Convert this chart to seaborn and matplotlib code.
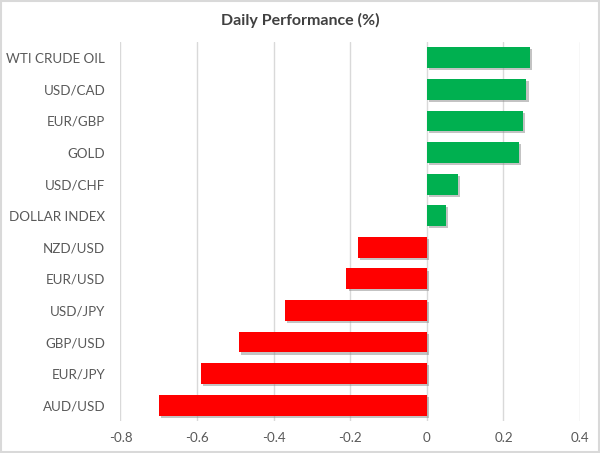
import matplotlib
matplotlib.use("Agg")
import matplotlib.pyplot as plt
import matplotlib.patheffects as pe
import seaborn as sns
import pandas as pd

# data
assets = ["WTI CRUDE OIL", "USD/CAD", "EUR/GBP", "GOLD", "USD/CHF", "DOLLAR INDEX",
          "NZD/USD", "EUR/USD", "USD/JPY", "GBP/USD", "EUR/JPY", "AUD/USD"]
change = [0.27, 0.26, 0.25, 0.24, 0.08, 0.05,
          -0.18, -0.21, -0.37, -0.49, -0.59, -0.70]
x_ticks = [-0.8, -0.6, -0.4, -0.2, 0, 0.2, 0.4]
x_tick_labels = ["-0.8", "-0.6", "-0.4", "-0.2", "0", "0.2", "0.4"]

df = pd.DataFrame({"asset": assets, "change": change})
bar_colors = ["#00B050" if v >= 0 else "#FF0000" for v in change]

sns.set_style("white")
plt.rcParams["font.family"] = ["Lato", "DejaVu Sans"]
text_col = "#595959"

fig = plt.figure(figsize=(6.0, 4.53), dpi=100)
ax = fig.add_axes([0.2008, 0.0706, 0.766, 0.8367])

sns.barplot(data=df, x="change", y="asset", hue="asset", palette=bar_colors,
            orient="h", width=0.66, saturation=1, linewidth=0, legend=False, ax=ax, zorder=3)

# soft drop shadow like the original
for p in ax.patches:
    p.set_path_effects([pe.SimplePatchShadow(offset=(1.5, -1.5), shadow_rgbFace="#888888", alpha=0.5),
                        pe.Normal()])

ax.set_xlim(-0.8, 0.4)
ax.set_xticks(x_ticks)
ax.set_xticklabels(x_tick_labels)
ax.xaxis.grid(True, color="#d9d9d9", linewidth=1, zorder=0)
ax.set_axisbelow(True)
ax.set_xlabel("")
ax.set_ylabel("")
ax.tick_params(axis="y", length=0, pad=11, labelsize=9.6, labelcolor=text_col)
ax.tick_params(axis="x", length=0, pad=8, labelsize=9.6, labelcolor=text_col)
for s in ax.spines.values():
    s.set_visible(False)

fig.text(0.5, 0.955, "Daily Performance (%)", ha="center", va="center",
         fontsize=11.5, fontweight="bold", color="#404040")

# light frame round the whole picture
fig.patches.append(plt.Rectangle((0.002, 0.002), 0.996, 0.996, transform=fig.transFigure,
                                 fill=False, edgecolor="#d9d9d9", linewidth=1.5))

fig.savefig("out.png", dpi=100)
